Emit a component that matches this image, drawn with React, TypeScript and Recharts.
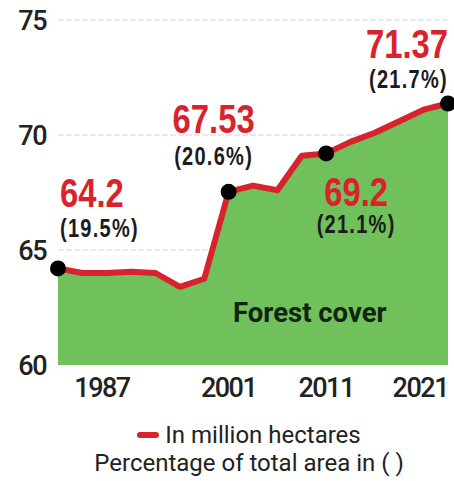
import { ComposedChart, Area, Line, XAxis, YAxis, CartesianGrid, LabelList } from 'recharts';

// ISFR assessment years and forest cover, million hectares
const years = ['1987', '1989', '1991', '1993', '1995', '1997', '1999', '2001', '2003', '2005', '2009', '2011', '2013', '2015', '2017', '2019', '2021'];
const forestCover = [64.2, 64.0, 64.0, 64.05, 64.0, 63.4, 63.75, 67.53, 67.8, 67.6, 69.1, 69.2, 69.7, 70.1, 70.6, 71.1, 71.37];

const yTicks = [60, 65, 70, 75];
const gridValues = [65, 70, 75];
const xTicks = ['1987', '2001', '2011', '2021'];

const calloutYears = ['1987', '2001', '2011', '2021'];
const calloutAmount = ['64.2', '67.53', '69.2', '71.37'];
const calloutShare = ['(19.5%)', '(20.6%)', '(21.1%)', '(21.7%)'];

const data = years.map((year, i) => ({ year, forest: forestCover[i] }));

const RED = '#d8232c';
const GREEN = '#70c05c';
const BOLD_FONT = "'Liberation Sans', Arial, sans-serif";
const AXIS_FONT = 'Roboto, sans-serif';

// placement of each callout relative to its point
const calloutPos = [
  { anchor: 'start', dx: 2, dyNum: -61, dyPct: -31 },
  { anchor: 'middle', dx: -15, dyNum: -59, dyPct: -27 },
  { anchor: 'middle', dx: 30, dyNum: 53, dyPct: 80 },
  { anchor: 'end', dx: 0, dyNum: -45, dyPct: -15 },
];

function Callout(props: any) {
  const { x, y, index } = props;
  const k = calloutYears.indexOf(years[index]);
  if (k < 0) return null;
  const p = calloutPos[k];
  return (
    <g>
      <g transform={`translate(${x + p.dx},${y + p.dyNum}) scale(0.8,1)`}>
        <text x={0} y={0} textAnchor={p.anchor} fill={RED} fontFamily={BOLD_FONT} fontWeight={700} fontSize={41}>
          {calloutAmount[k]}
        </text>
      </g>
      <g transform={`translate(${x + p.dx},${y + p.dyPct}) scale(0.8,1)`}>
        <text x={0} y={0} textAnchor={p.anchor} fill="#1b1b1b" fontFamily={BOLD_FONT} fontWeight={700} fontSize={25} letterSpacing={1.6}>
          {calloutShare[k]}
        </text>
      </g>
    </g>
  );
}

function CalloutDot(props: any) {
  const { cx, cy, index } = props;
  if (!calloutYears.includes(years[index])) return <g key={index} />;
  return <circle key={index} cx={cx} cy={cy} r={8} fill="#000" />;
}

function YearTick(props: any) {
  const { x, y, payload } = props;
  let anchor = 'middle';
  let dx = 0;
  if (payload.value === '1987') dx = 44;
  if (payload.value === '2021') anchor = 'end';
  return (
    <text x={x + dx} y={y} dy={19} textAnchor={anchor} fill="#222" fontFamily={AXIS_FONT} fontWeight={500} fontSize={27} letterSpacing={-1.5}>
      {payload.value}
    </text>
  );
}

export default function App() {
  return (
    <div style={{ position: 'absolute', left: 0, top: 0, width: 454, height: 481, background: '#fff' }}>
      <ComposedChart width={454} height={481} data={data} margin={{ top: 20, right: 6, left: 0, bottom: 76 }}>
        <CartesianGrid vertical={false} horizontalValues={gridValues} stroke="#d4d4d4" strokeDasharray="6 2" />
        <XAxis
          dataKey="year"
          ticks={xTicks}
          interval={0}
          axisLine={false}
          tickLine={false}
          tickSize={0}
          tickMargin={13}
          height={40}
          tick={<YearTick />}
        />
        <YAxis
          domain={[60, 75]}
          ticks={yTicks}
          width={58}
          axisLine={false}
          tickLine={false}
          tickSize={0}
          tickMargin={12}
          tick={{ fill: '#222', fontFamily: AXIS_FONT, fontWeight: 500, fontSize: 27, letterSpacing: -1.5 }}
        />
        <Area type="linear" dataKey="forest" stroke="none" fill={GREEN} fillOpacity={1} baseValue={60} isAnimationActive={false} />
        <Line type="linear" dataKey="forest" stroke={RED} strokeWidth={6} strokeLinejoin="round" dot={<CalloutDot />} activeDot={false} isAnimationActive={false}>
          <LabelList dataKey="forest" content={<Callout />} />
        </Line>
      </ComposedChart>
      <div style={{ position: 'absolute', left: 233, top: 296, width: 160, fontFamily: AXIS_FONT, fontWeight: 700, fontSize: 27.5, color: '#12240f', whiteSpace: 'nowrap' }}>
        Forest cover
      </div>
      <div style={{ position: 'absolute', left: 0, top: 421, width: 498, fontFamily: AXIS_FONT, color: '#222', fontSize: 24, textAlign: 'center', lineHeight: '28px' }}>
        <div>
          <span style={{ display: 'inline-block', width: 22, height: 6, background: RED, borderRadius: 3, verticalAlign: 'middle', marginRight: 6, marginTop: -4 }} />
          In million hectares
        </div>
        <div>Percentage of total area in ( )</div>
      </div>
    </div>
  );
}
